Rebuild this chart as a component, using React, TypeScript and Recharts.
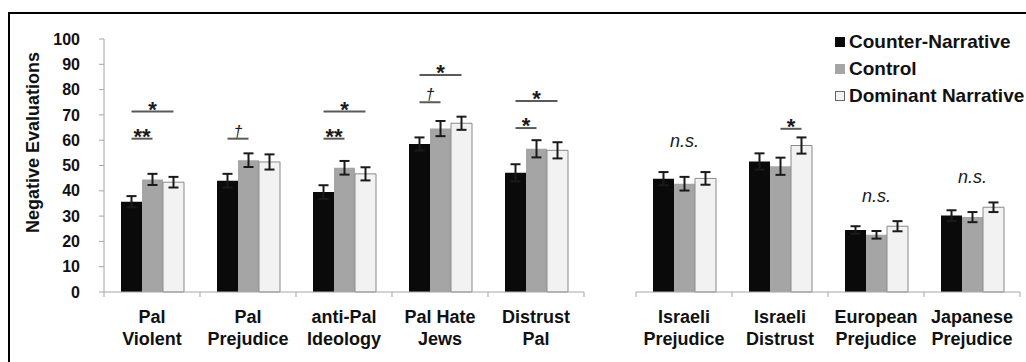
import React from 'react';
import { BarChart, Bar, XAxis, YAxis, ErrorBar, Legend, Rectangle } from 'recharts';

const FONT = '"Liberation Sans", Arial, Helvetica, sans-serif';

// ---------- data ----------
const leftCategories = ['Pal|Violent', 'Pal|Prejudice', 'anti-Pal|Ideology', 'Pal Hate|Jews', 'Distrust|Pal'];
const rightCategories = ['Israeli|Prejudice', 'Israeli|Distrust', 'European|Prejudice', 'Japanese|Prejudice'];
const seriesNames = ['Counter-Narrative', 'Control', 'Dominant Narrative'];

const counterLeft = [35.7, 44.0, 39.5, 58.5, 47.1];
const controlLeft = [44.5, 52.1, 49.1, 64.6, 56.6];
const dominantLeft = [43.4, 51.4, 46.7, 66.7, 56.0];
const counterLeftErr = [2.2, 2.7, 2.7, 2.6, 3.4];
const controlLeftErr = [2.2, 2.7, 2.7, 3.0, 3.4];
const dominantLeftErr = [2.1, 3.0, 2.6, 2.6, 3.2];

const counterRight = [44.8, 51.6, 24.5, 30.2];
const controlRight = [42.8, 49.7, 22.6, 29.6];
const dominantRight = [44.9, 57.9, 26.0, 33.5];
const counterRightErr = [2.6, 3.2, 1.5, 2.1];
const controlRightErr = [2.7, 3.4, 1.5, 2.0];
const dominantRightErr = [2.5, 3.2, 2.0, 1.9];

const yTicks = [0, 10, 20, 30, 40, 50, 60, 70, 80, 90, 100];

type Bracket = { from: number; to: number; level: number; mark: string };
const bracketsLeft: Bracket[][] = [
  [{ from: 0, to: 2, level: 71.3, mark: '*' }, { from: 0, to: 1, level: 60.6, mark: '**' }],
  [{ from: 0, to: 1, level: 60.6, mark: '†' }],
  [{ from: 0, to: 2, level: 71.3, mark: '*' }, { from: 0, to: 1, level: 60.6, mark: '**' }],
  [{ from: 0, to: 2, level: 85.8, mark: '*' }, { from: 0, to: 1, level: 75.0, mark: '†' }],
  [{ from: 0, to: 2, level: 75.5, mark: '*' }, { from: 0, to: 1, level: 64.8, mark: '*' }],
];
const bracketsRight: Bracket[][] = [[], [{ from: 1, to: 2, level: 64.5, mark: '*' }], [], []];
const nsLeft: (number | null)[] = [null, null, null, null, null];
const nsRight: (number | null)[] = [57.5, null, 35.4, 43.1];

// ---------- styles ----------
const COLORS = ['#0a0a0a', '#a5a5a5', '#f2f2f2'];
const AXIS = '#a6a6a6';

function buildRows(cats: string[], a: number[], b: number[], c: number[], ae: number[], be: number[], ce: number[]) {
  return cats.map((name, i) => ({ name, cn: a[i], ct: b[i], dn: c[i], cnErr: ae[i], ctErr: be[i], dnErr: ce[i] }));
}
const leftRows = buildRows(leftCategories, counterLeft, controlLeft, dominantLeft, counterLeftErr, controlLeftErr, dominantLeftErr);
const rightRows = buildRows(rightCategories, counterRight, controlRight, dominantRight, counterRightErr, controlRightErr, dominantRightErr);

const makeAnnotatedShape = (cats: string[], brackets: Bracket[][], ns: (number | null)[]) => (props: any) => {
  const { x, y, width, height, payload } = props;
  const idx = cats.indexOf(payload.name);
  const v = payload.dn;
  const base = y + height;
  const k = height / v;
  const toY = (val: number) => base - val * k;
  const center = (i: number) => x + width / 2 - (2 - i) * width;
  const list = idx >= 0 ? brackets[idx] : [];
  const nsv = idx >= 0 ? ns[idx] : null;
  return (
    <g>
      <Rectangle x={x} y={y} width={width} height={height} fill={COLORS[2]} stroke="#8a8a8a" strokeWidth={1} />
      {list.map((b, j) => {
        const x1 = center(b.from);
        const x2 = center(b.to);
        const ly = toY(b.level);
        const dagger = b.mark === '†';
        return (
          <g key={j}>
            <line x1={x1} x2={x2} y1={ly} y2={ly} stroke="#5a5a5a" strokeWidth={2} />
            <text
              x={(x1 + x2) / 2}
              y={dagger ? ly - 2 : ly + 5}
              textAnchor="middle"
              fontFamily={FONT}
              fontSize={dagger ? 16 : 22}
              fontWeight={dagger ? 'normal' : 'bold'}
              fontStyle={dagger ? 'italic' : 'normal'}
              fill="#1a1a1a"
            >
              {b.mark}
            </text>
          </g>
        );
      })}
      {nsv !== null && (
        <text x={center(1)} y={toY(nsv)} textAnchor="middle" fontFamily={FONT} fontSize={18} fontStyle="italic" fill="#1a1a1a">
          n.s.
        </text>
      )}
    </g>
  );
};

const makeTick = (band: number, count: number) => (props: any) => {
  const { x, y, payload, index } = props;
  const axisY = y - 5;
  const lines = String(payload.value).split('|');
  return (
    <g>
      <line x1={x - band / 2} x2={x - band / 2} y1={axisY} y2={axisY + 5} stroke={AXIS} strokeWidth={1} />
      {index === count - 1 && <line x1={x + band / 2} x2={x + band / 2} y1={axisY} y2={axisY + 5} stroke={AXIS} strokeWidth={1} />}
      <text textAnchor="middle" fontFamily={FONT} fontSize={18} fontWeight="bold" fill="#111">
        <tspan x={x} y={axisY + 31}>{lines[0]}</tspan>
        <tspan x={x} y={axisY + 53}>{lines[1]}</tspan>
      </text>
    </g>
  );
};

const renderLegend = (props: any) => {
  const items = (props.payload || []).slice().sort(
    (a: any, b: any) => seriesNames.indexOf(a.value) - seriesNames.indexOf(b.value)
  );
  return (
    <div style={{ fontFamily: FONT, fontSize: 19, fontWeight: 'bold', color: '#111' }}>
      {items.map((it: any, i: number) => {
        const si = seriesNames.indexOf(it.value);
        return (
          <div key={i} style={{ display: 'flex', alignItems: 'center', height: 27, whiteSpace: 'nowrap' }}>
            <span
              style={{
                display: 'inline-block',
                width: 10,
                height: 10,
                boxSizing: 'border-box',
                background: COLORS[si],
                border: si === 2 ? '1px solid #666' : 'none',
                marginRight: 4,
              }}
            />
            <span>{it.value}</span>
          </div>
        );
      })}
    </div>
  );
};

const LEFT_W = 600;
const LEFT_MARGIN = { top: 39, right: 16, bottom: 0, left: 0 };
const Y_AXIS_W = 104;
const RIGHT_W = 406;
const RIGHT_MARGIN = { top: 39, right: 6, bottom: 0, left: 16 };

const leftBand = (LEFT_W - LEFT_MARGIN.left - LEFT_MARGIN.right - Y_AXIS_W) / leftCategories.length;
const rightBand = (RIGHT_W - RIGHT_MARGIN.left - RIGHT_MARGIN.right) / rightCategories.length;

const LeftTick = makeTick(leftBand, leftCategories.length);
const RightTick = makeTick(rightBand, rightCategories.length);
const LeftShape = makeAnnotatedShape(leftCategories, bracketsLeft, nsLeft);
const RightShape = makeAnnotatedShape(rightCategories, bracketsRight, nsRight);

const errProps = { width: 5, strokeWidth: 2, stroke: '#1a1a1a' };

export default function App() {
  return (
    <div style={{ position: 'absolute', left: 0, top: 0, width: 1026, height: 362, background: '#fff', overflow: 'hidden' }}>
      <style>{'html,body{margin:0;overflow:hidden;}'}</style>
      <div style={{ position: 'absolute', left: 8, top: 12, width: 1018, height: 2, background: '#000' }} />
      <div style={{ position: 'absolute', left: 8, top: 12, width: 2, height: 350, background: '#000' }} />
      <svg style={{ position: 'absolute', left: 0, top: 0 }} width={60} height={362}>
        <text
          transform="translate(33,142.5) rotate(-90)"
          textAnchor="middle"
          dominantBaseline="central"
          fontFamily={FONT}
          fontSize={18}
          fontWeight="bold"
          fill="#111"
        >
          Negative Evaluations
        </text>
      </svg>
      <div style={{ position: 'absolute', left: 0, top: 0 }}>
        <BarChart width={LEFT_W} height={362} data={leftRows} margin={LEFT_MARGIN} barGap={0} barSize={21}>
          <XAxis
            dataKey="name"
            height={70}
            axisLine={{ stroke: AXIS }}
            tickLine={false}
            tickSize={5}
            tickMargin={0}
            interval={0}
            tick={LeftTick}
          />
          <YAxis
            width={Y_AXIS_W}
            domain={[0, 100]}
            ticks={yTicks}
            interval={0}
            axisLine={{ stroke: AXIS }}
            tickLine={{ stroke: AXIS }}
            tickSize={5}
            tickMargin={19}
            tick={{ fontFamily: FONT, fontSize: 16, fontWeight: 'bold', fill: '#111' }}
          />
          <Bar dataKey="cn" name={seriesNames[0]} fill={COLORS[0]} isAnimationActive={false}>
            <ErrorBar dataKey="cnErr" {...errProps} />
          </Bar>
          <Bar dataKey="ct" name={seriesNames[1]} fill={COLORS[1]} isAnimationActive={false}>
            <ErrorBar dataKey="ctErr" {...errProps} />
          </Bar>
          <Bar dataKey="dn" name={seriesNames[2]} fill={COLORS[2]} stroke="#8a8a8a" shape={LeftShape} isAnimationActive={false}>
            <ErrorBar dataKey="dnErr" {...errProps} />
          </Bar>
        </BarChart>
      </div>
      <div style={{ position: 'absolute', left: LEFT_W + 20, top: 0 }}>
        <BarChart width={RIGHT_W} height={362} data={rightRows} margin={RIGHT_MARGIN} barGap={0} barSize={21}>
          <XAxis
            dataKey="name"
            height={70}
            axisLine={{ stroke: AXIS }}
            tickLine={false}
            tickSize={5}
            tickMargin={0}
            interval={0}
            tick={RightTick}
          />
          <YAxis hide domain={[0, 100]} ticks={yTicks} />
          <Legend
            layout="vertical"
            align="center"
            verticalAlign="middle"
            itemSorter={null as any}
            wrapperStyle={{ left: 215, top: 28, width: 190 }}
            content={renderLegend}
          />
          <Bar dataKey="cn" name={seriesNames[0]} fill={COLORS[0]} isAnimationActive={false}>
            <ErrorBar dataKey="cnErr" {...errProps} />
          </Bar>
          <Bar dataKey="ct" name={seriesNames[1]} fill={COLORS[1]} isAnimationActive={false}>
            <ErrorBar dataKey="ctErr" {...errProps} />
          </Bar>
          <Bar dataKey="dn" name={seriesNames[2]} fill={COLORS[2]} stroke="#8a8a8a" shape={RightShape} isAnimationActive={false}>
            <ErrorBar dataKey="dnErr" {...errProps} />
          </Bar>
        </BarChart>
      </div>
    </div>
  );
}
